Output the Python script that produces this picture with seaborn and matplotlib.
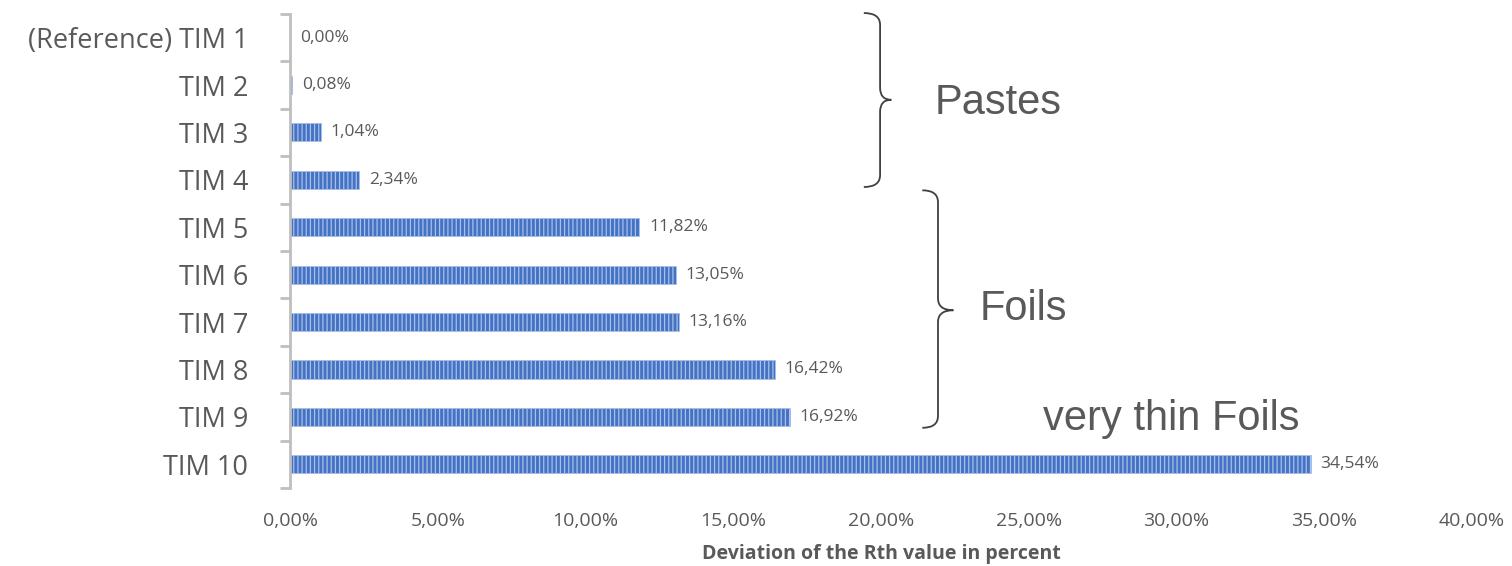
import numpy as np
import pandas as pd
import matplotlib
matplotlib.use('Agg')
import matplotlib.pyplot as plt
from matplotlib.path import Path
from matplotlib.patches import PathPatch
import seaborn as sns

materials = ['(Reference) TIM 1', 'TIM 2', 'TIM 3', 'TIM 4', 'TIM 5',
             'TIM 6', 'TIM 7', 'TIM 8', 'TIM 9', 'TIM 10']
deviation = [0.00, 0.08, 1.04, 2.34, 11.82, 13.05, 13.16, 16.42, 16.92, 34.54]
xticks = [0, 5, 10, 15, 20, 25, 30, 35, 40]

df = pd.DataFrame({'TIM': materials, 'Deviation': deviation})

sns.set_style('white')
plt.rcParams['font.family'] = ['Open Sans', 'DejaVu Sans']
plt.rcParams['hatch.linewidth'] = 0.9
grey = '#595959'

fig = plt.figure(figsize=(15.12, 5.66), dpi=100)
ax = fig.add_axes([0.1918, 0.1378, 0.7817, 0.8375])

sns.barplot(data=df, x='Deviation', y='TIM', orient='h', ax=ax,
            color='#4472C4', saturation=1, width=0.38,
            edgecolor='#A9C0E8', linewidth=0.5, hatch='||||')

# value labels
ax.bar_label(ax.containers[0], labels=[f'{v:.2f}%'.replace('.', ',') for v in deviation],
             padding=7, fontsize=12.5, color=grey)

ax.set_xlim(0, 40)
ax.set_ylim(9.5, -0.5)
ax.set_xticks(xticks)
ax.set_xticklabels([f'{t:.2f}%'.replace('.', ',') for t in xticks], fontsize=14, color=grey)
ax.tick_params(axis='x', length=0, pad=17)
ax.tick_params(axis='y', which='major', length=0, pad=30, labelsize=19.5, labelcolor=grey)
ax.set_yticks(np.arange(-0.5, 10, 1), minor=True)
ax.tick_params(axis='y', which='minor', left=True, length=7, width=2,
               color='#BFBFBF', direction='out')
ax.set_ylabel('')
ax.set_xlabel('Deviation of the Rth value in percent', fontsize=14,
              fontweight='bold', color=grey, labelpad=10)

for s in ['top', 'right', 'bottom']:
    ax.spines[s].set_visible(False)
ax.spines['left'].set_color('#BFBFBF')
ax.spines['left'].set_linewidth(2)


def brace(x0, xv, tip, ytop, ymid, ybot):
    ry = 0.25
    verts = [(x0, ytop), (xv, ytop), (xv, ytop + ry),
             (xv, ymid - ry), (xv, ymid), (tip, ymid),
             (xv, ymid), (xv, ymid + ry),
             (xv, ybot - ry), (xv, ybot), (x0, ybot)]
    codes = [Path.MOVETO, Path.CURVE3, Path.CURVE3,
             Path.LINETO, Path.CURVE3, Path.CURVE3,
             Path.CURVE3, Path.CURVE3,
             Path.LINETO, Path.CURVE3, Path.CURVE3]
    ax.add_patch(PathPatch(Path(verts, codes), fill=False, edgecolor='#404040',
                           linewidth=1.3, clip_on=False))


brace(19.42, 19.97, 20.35, -0.52, 1.31, 3.15)
brace(21.4, 21.93, 22.45, 3.22, 5.75, 8.23)

ann = dict(fontsize=30, color=grey, family=['Liberation Sans', 'DejaVu Sans'], va='center')
ax.text(21.8, 1.38, 'Pastes', **ann)
ax.text(23.35, 5.72, 'Foils', **ann)
ax.text(25.5, 8.05, 'very thin Foils', **ann)

fig.savefig('out.png', dpi=100)
